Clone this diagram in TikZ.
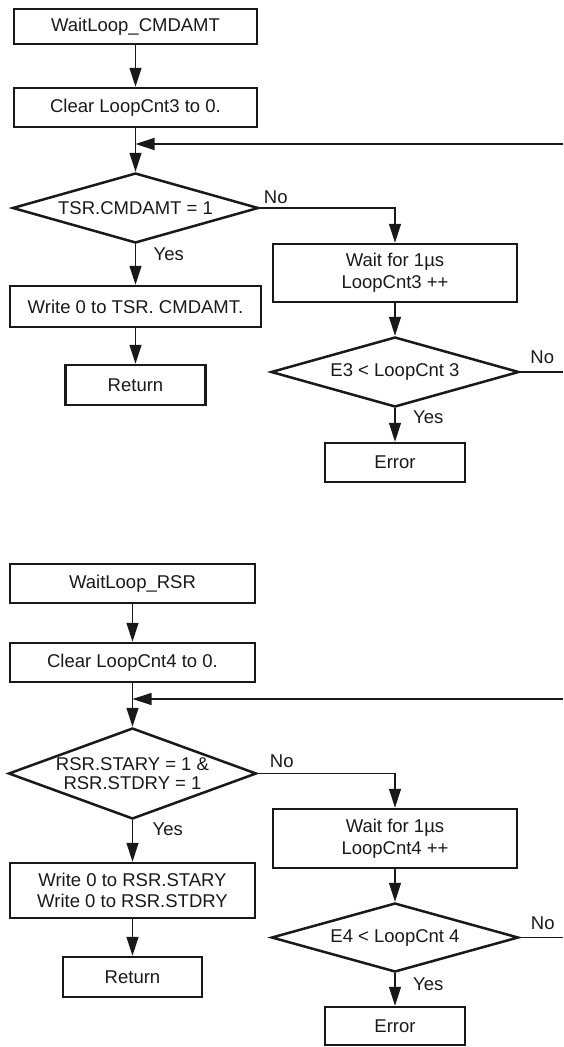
\documentclass[tikz,border=0pt]{standalone}
\usepackage{fontspec}
\setmainfont{Liberation Sans}
\usetikzlibrary{arrows.meta,shapes.geometric}
\begin{document}
\begin{tikzpicture}[x=1pt,y=-1pt,
  every node/.style={font=\fontsize{18.5}{21.7}\selectfont, text=black!90},
  box/.style={draw=black!90, line width=2.5pt, rectangle, inner sep=0pt, align=center},
  dia/.style={draw=black!90, line width=2.5pt, diamond, inner sep=0pt},
  lbl/.style={inner sep=0pt, anchor=west},
  conn/.style={draw=black!90, line width=1.2pt},
  arr/.style={conn, -{Triangle[length=19pt,width=12pt]}}
]
\useasboundingbox (0,0) rectangle (563,1047);
% ---------- top flow ----------
\node[box, minimum width=243pt, minimum height=35pt] (n1) at (135.5,26.5) {WaitLoop\_CMDAMT};
\node[box, minimum width=243pt, minimum height=39pt] (n2) at (135.5,107.5) {Clear LoopCnt3 to 0.};
\node[dia, minimum width=246pt, minimum height=70pt] (d1) at (135.5,208) {};
\node (t1) at (d1.center) {TSR.CMDAMT = 1};
\node[box, minimum width=244pt, minimum height=58pt] (w1) at (395,273) {Wait for 1µs\\LoopCnt3 ++};
\node[dia, minimum width=248pt, minimum height=70pt] (d2) at (395,372) {};
\node (t2) at (d2.center) {E3 < LoopCnt 3};
\node[box, minimum width=140pt, minimum height=39pt] (e1) at (395,462.5) {Error};
\node[box, minimum width=251pt, minimum height=41pt] (wr1) at (135.5,306.5) {Write 0 to TSR. CMDAMT.};
\node[box, minimum width=140pt, minimum height=40pt] (r1) at (135.5,385) {Return};
\coordinate (c1) at (563,144);
\coordinate (c2) at (563,372);

\draw[arr] (n1) -- (n2);
\draw[arr] (n2) -- (d1.north);
\draw[arr] (c1) -- (c1 -| d1.north);
\draw[arr] (d1.east) -| (w1.north);
\draw[arr] (d1.south) -- (wr1);
\draw[arr] (wr1) -- (r1);
\draw[arr] (w1) -- (d2.north);
\draw[arr] (d2.south) -- (e1);
\draw[conn] (d2.east) -- (c2);
\node[lbl] (no1) at ([shift={(4,-11)}]d1.east) {No};
\node[lbl] (yes1) at ([shift={(18,10)}]d1.south) {Yes};
\node[lbl] (no2) at ([shift={(10,-15)}]d2.east) {No};
\node[lbl] (yes2) at ([shift={(18,9)}]d2.south) {Yes};

% ---------- bottom flow ----------
\node[box, minimum width=245pt, minimum height=39pt] (n3) at (132.5,583.5) {WaitLoop\_RSR};
\node[box, minimum width=245pt, minimum height=39pt] (n4) at (132.5,662.5) {Clear LoopCnt4 to 0.};
\node[dia, minimum width=248pt, minimum height=91pt] (d3) at (132.5,773.5) {};
\node[align=center, font=\fontsize{18.5}{18.5}\selectfont] (t3) at (d3.center) {RSR.STARY = 1 \&\\RSR.STDRY = 1};
\node[box, minimum width=244pt, minimum height=59pt] (w2) at (395,838.5) {Wait for 1µs\\LoopCnt4 ++};
\node[dia, minimum width=247pt, minimum height=69pt] (d4) at (395,937.5) {};
\node (t4) at (d4.center) {E4 < LoopCnt 4};
\node[box, minimum width=140pt, minimum height=38pt] (e2) at (395,1026) {Error};
\node[box, minimum width=245pt, minimum height=55pt] (wr2) at (132.5,890.5) {Write 0 to RSR.STARY\\Write 0 to RSR.STDRY};
\node[box, minimum width=139pt, minimum height=40pt] (r2) at (132.5,977) {Return};
\coordinate (c3) at (563,699);
\coordinate (c4) at (563,937.5);

\draw[arr] (n3) -- (n4);
\draw[arr] (n4) -- (d3.north);
\draw[arr] (c3) -- (c3 -| d3.north);
\draw[arr] (d3.east) -| (w2.north);
\draw[arr] (d3.south) -- (wr2);
\draw[arr] (wr2) -- (r2);
\draw[arr] (w2) -- (d4.north);
\draw[arr] (d4.south) -- (e2);
\draw[conn] (d4.east) -- (c4);
\node[lbl] (no3) at ([shift={(12,-12)}]d3.east) {No};
\node[lbl] (yes3) at ([shift={(20,9)}]d3.south) {Yes};
\node[lbl] (no4) at ([shift={(11,-14)}]d4.east) {No};
\node[lbl] (yes4) at ([shift={(18,11)}]d4.south) {Yes};
\end{tikzpicture}
\end{document}
